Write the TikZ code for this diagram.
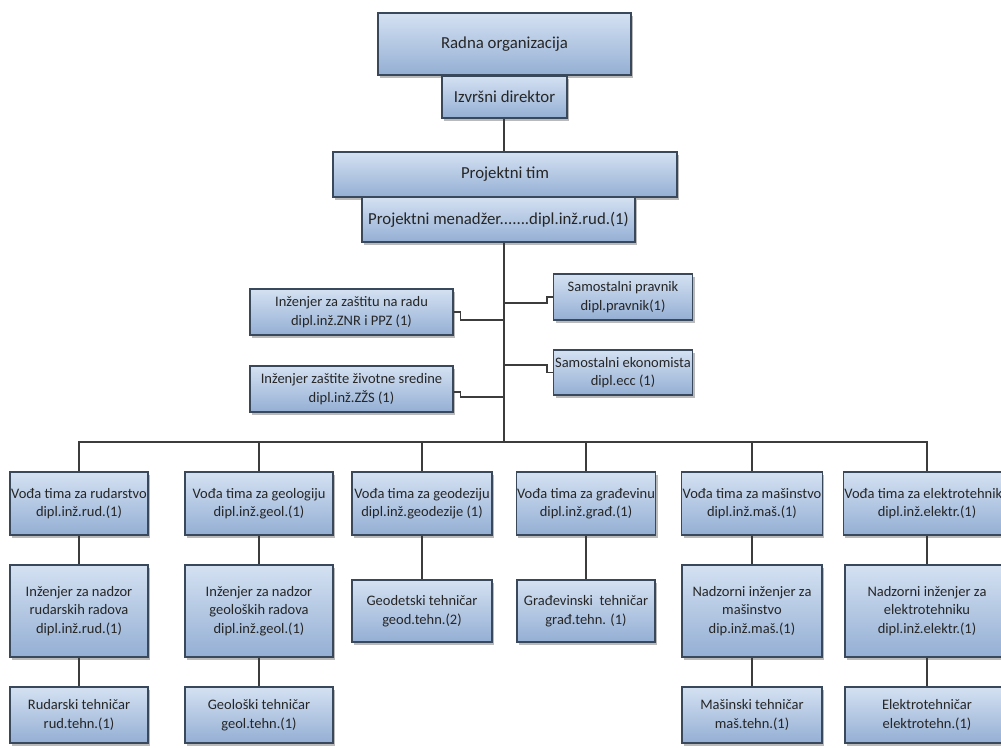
\documentclass[tikz,border=0pt]{standalone}
\usepackage{fontspec}
\setmainfont{Carlito}
\usetikzlibrary{shadows}
\definecolor{boxtop}{RGB}{212,225,242}
\definecolor{boxbot}{RGB}{148,175,212}
\definecolor{boxline}{RGB}{58,72,92}
\definecolor{conline}{RGB}{60,60,60}
\definecolor{txt}{RGB}{38,38,38}
\tikzset{
  orgbox/.style={rectangle, draw=boxline, line width=1.1pt, top color=boxtop, bottom color=boxbot,
    align=center, text=txt, inner sep=1pt,
    drop shadow={shadow xshift=2pt, shadow yshift=-2.5pt, fill=black!45, opacity=0.6}},
  big/.style={orgbox, font=\fontsize{16.8}{20}\selectfont},
  small/.style={orgbox, font=\fontsize{14.5}{18.5}\selectfont},
  con/.style={draw=conline, line width=1.1pt}
}
\begin{document}
\begin{tikzpicture}[x=1pt,y=-1pt]
\useasboundingbox (0,0) rectangle (1001,747);
\clip (0,0) rectangle (1001,747);
\fill[white] (0,0) rectangle (1001,747);
% top
\node[big, minimum width=253pt, minimum height=62pt] (rad) at (504.5,44) {Radna organizacija};
\node[big, minimum width=125pt, minimum height=42pt] (izv) at (504.5,97) {Izvršni direktor};
\node[big, minimum width=344pt, minimum height=45pt] (pt) at (505,174.5) {Projektni tim};
\node[big, minimum width=273pt, minimum height=45pt] (pm) at (498.5,219.5) {Projektni menadžer.......dipl.inž.rud.(1)};
% staff
\node[small, minimum width=203pt, minimum height=46pt] (znr) at (351.5,312) {Inženjer za zaštitu na radu\\dipl.inž.ZNR i PPZ (1)};
\node[small, minimum width=203pt, minimum height=46pt] (zzs) at (351.5,389) {Inženjer zaštite životne sredine\\dipl.inž.ZŽS (1)};
\node[small, minimum width=139pt, minimum height=46pt] (prav) at (623,297) {Samostalni pravnik\\dipl.pravnik(1)};
\node[small, minimum width=139pt, minimum height=45pt] (eko) at (623,372.5) {Samostalni ekonomista\\dipl.ecc (1)};
% level 1
\node[small, minimum width=138pt, minimum height=63pt] (l1a) at (79,503.5) {Vođa tima za rudarstvo\\dipl.inž.rud.(1)};
\node[small, minimum width=148pt, minimum height=63pt] (l1b) at (259,503.5) {Vođa tima za geologiju\\dipl.inž.geol.(1)};
\node[small, minimum width=140pt, minimum height=63pt] (l1c) at (422,503.5) {Vođa tima za geodeziju\\dipl.inž.geodezije (1)};
\node[small, minimum width=138pt, minimum height=63pt] (l1d) at (586,503.5) {Vođa tima za građevinu\\dipl.inž.građ.(1)};
\node[small, minimum width=140pt, minimum height=63pt] (l1e) at (752,503.5) {Vođa tima za mašinstvo\\dipl.inž.maš.(1)};
\node[small, minimum width=164pt, minimum height=63pt] (l1f) at (927,503.5) {Vođa tima za elektrotehniku\\dipl.inž.elektr.(1)};
% level 2
\node[small, minimum width=138pt, minimum height=92pt] (l2a) at (79,611) {Inženjer za nadzor\\rudarskih radova\\dipl.inž.rud.(1)};
\node[small, minimum width=148pt, minimum height=92pt] (l2b) at (259,611) {Inženjer za nadzor\\geoloških radova\\dipl.inž.geol.(1)};
\node[small, minimum width=140pt, minimum height=62pt] (l2c) at (422,611) {Geodetski tehničar\\geod.tehn.(2)};
\node[small, minimum width=138pt, minimum height=62pt] (l2d) at (586,611) {Građevinski~ tehničar\\građ.tehn. (1)};
\node[small, minimum width=140pt, minimum height=92pt] (l2e) at (752,611) {Nadzorni inženjer za\\mašinstvo\\dip.inž.maš.(1)};
\node[small, minimum width=164pt, minimum height=92pt] (l2f) at (927,611) {Nadzorni inženjer za\\elektrotehniku\\dipl.inž.elektr.(1)};
% level 3
\node[small, minimum width=138pt, minimum height=56pt] (l3a) at (79,715) {Rudarski tehničar\\rud.tehn.(1)};
\node[small, minimum width=148pt, minimum height=56pt] (l3b) at (259,715) {Geološki tehničar\\geol.tehn.(1)};
\node[small, minimum width=140pt, minimum height=56pt] (l3e) at (752,715) {Mašinski tehničar\\maš.tehn.(1)};
\node[small, minimum width=164pt, minimum height=56pt] (l3f) at (927,715) {Elektrotehničar\\elektrotehn.(1)};
% connector coordinates
\coordinate (bus) at (504,442);
\coordinate (t1) at (504,320);
\coordinate (t2) at (504,397);
\coordinate (t3) at (504,303);
\coordinate (t4) at (504,365);
% connectors
\draw[con] (izv.south -| bus) -- (pt.north -| bus);
\draw[con] (pm.south -| bus) -- (bus);
\draw[con] (znr.east) -- ++(7,0) |- (t1);
\draw[con] ([yshift=-3pt]zzs.east) -- ++(7,0) |- (t2);
\draw[con] (t3) -- ++(43,0) |- (prav.west);
\draw[con] (t4) -- ++(43,0) |- (eko.west);
\draw[con] (l1a.north) |- (bus) -| (l1f.north);
\foreach \n in {l1b,l1c,l1d,l1e} \draw[con] (\n.north) -- (\n.north |- bus);
\foreach \a/\b in {l1a/l2a,l2a/l3a,l1b/l2b,l2b/l3b,l1c/l2c,l1d/l2d,l1e/l2e,l2e/l3e,l1f/l2f,l2f/l3f}
  \draw[con] (\a.south) -- (\b.north);
\end{tikzpicture}
\end{document}
